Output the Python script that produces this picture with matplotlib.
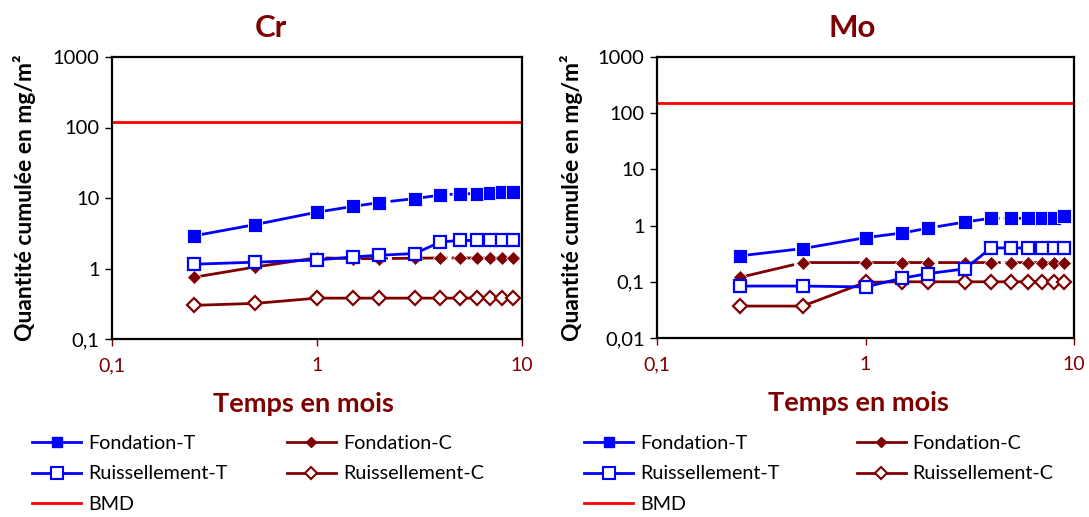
import matplotlib
matplotlib.use("Agg")
import matplotlib.pyplot as plt
from matplotlib.lines import Line2D
from matplotlib.ticker import FixedLocator, FixedFormatter, NullLocator

plt.rcParams['font.family'] = ['Lato', 'DejaVu Sans']

# ---- data ----
temps = [0.25, 0.5, 1, 1.5, 2, 3, 4, 5, 6, 7, 8, 9]

cr_fondation_t = [2.9, 4.2, 6.3, 7.6, 8.6, 9.8, 11.0, 11.5, 11.5, 11.9, 12.1, 12.2]
cr_fondation_c = [0.75, 1.05, 1.42, 1.38, 1.38, 1.4, 1.41, 1.41, 1.41, 1.41, 1.41, 1.41]
cr_ruiss_t = [1.15, 1.23, 1.32, 1.46, 1.54, 1.63, 2.38, 2.5, 2.5, 2.5, 2.5, 2.5]
cr_ruiss_c = [0.30, 0.32, 0.38, 0.38, 0.38, 0.38, 0.38, 0.38, 0.38, 0.38, 0.38, 0.38]
cr_bmd = 120

mo_fondation_t = [0.29, 0.39, 0.61, 0.74, 0.90, 1.16, 1.35, 1.35, 1.35, 1.35, 1.35, 1.5]
mo_fondation_c = [0.12, 0.22, 0.22, 0.22, 0.22, 0.22, 0.22, 0.22, 0.22, 0.22, 0.22, 0.22]
mo_ruiss_t = [0.084, 0.084, 0.081, 0.116, 0.14, 0.17, 0.40, 0.40, 0.40, 0.40, 0.40, 0.40]
mo_ruiss_c = [0.037, 0.037, 0.098, 0.1, 0.1, 0.1, 0.1, 0.1, 0.1, 0.1, 0.1, 0.1]
mo_bmd = 150

titles = ["Cr", "Mo"]
series_labels = ["Fondation-T", "Fondation-C", "Ruissellement-T", "Ruissellement-C", "BMD"]
x_ticks = [0.1, 1, 10]
x_ticklabels = ["0,1", "1", "10"]
cr_yticks = [0.1, 1, 10, 100, 1000]
cr_yticklabels = ["0,1", "1", "10", "100", "1000"]
mo_yticks = [0.01, 0.1, 1, 10, 100, 1000]
mo_yticklabels = ["0,01", "0,1", "1", "10", "100", "1000"]

BLUE = "#0000FF"
DRED = "#7F0000"
RED = "#FF0000"

W, H = 1089, 517
fig = plt.figure(figsize=(W / 100, H / 100), dpi=100)

positions = [
    [112 / W, (H - 339) / H, 410 / W, 282 / H],
    [657 / W, (H - 338) / H, 417 / W, 281 / H],
]
panels = [
    (cr_fondation_t, cr_fondation_c, cr_ruiss_t, cr_ruiss_c, cr_bmd, cr_yticks, cr_yticklabels),
    (mo_fondation_t, mo_fondation_c, mo_ruiss_t, mo_ruiss_c, mo_bmd, mo_yticks, mo_yticklabels),
]
title_x = [0.388, 0.468]
xlabel_x = [0.468, 0.482]
ylabel_x = [-0.185, -0.178]
legend_x = [32 / W, 584 / W]
colspace = [3.0, 3.9]

dashdot = (0, (20, 1.5, 1, 1.5))

for i, (ft, fc, rt, rc, bmd, yt, ytl) in enumerate(panels):
    ax = fig.add_axes(positions[i])
    ax.set_xscale('log')
    ax.set_yscale('log')
    ax.set_xlim(0.1, 10)
    ax.set_ylim(yt[0], yt[-1])

    ax.axhline(bmd, color=RED, lw=2.0, zorder=2)
    ax.plot(temps, rc, color=DRED, lw=2.0, marker='D', ms=7.2,
            mfc='white', mec=DRED, mew=1.6, zorder=3)
    ax.plot(temps, fc, color=DRED, lw=2.0, ls=dashdot, marker='D', ms=7.2,
            mfc=DRED, mec='white', mew=0.5, zorder=4)
    ax.plot(temps, rt, color=BLUE, lw=2.0, marker='s', ms=9.0,
            mfc='white', mec=BLUE, mew=1.6, zorder=5)
    ax.plot(temps, ft, color=BLUE, lw=2.0, ls=dashdot, marker='s', ms=10.0,
            mfc=BLUE, mec='white', mew=0.6, zorder=6)

    ax.xaxis.set_major_locator(FixedLocator(x_ticks))
    ax.xaxis.set_major_formatter(FixedFormatter(x_ticklabels))
    ax.xaxis.set_minor_locator(NullLocator())
    ax.yaxis.set_major_locator(FixedLocator(yt))
    ax.yaxis.set_major_formatter(FixedFormatter(ytl))
    ax.yaxis.set_minor_locator(NullLocator())

    ax.tick_params(axis='x', colors=DRED, labelsize=14, length=5, width=1,
                   direction='out', pad=8)
    ax.tick_params(axis='y', colors='black', labelsize=14.5, length=5, width=1,
                   direction='out', pad=4)
    for s in ax.spines.values():
        s.set_linewidth(1.6)
        s.set_color('black')

    ax.text(title_x[i], 1 + 29 / positions[i][3] / H, titles[i], transform=ax.transAxes,
            fontsize=22.5, fontweight='bold', color=DRED, ha='center', va='center')
    ax.set_xlabel("Temps en mois", fontsize=19.5, fontweight='bold', color=DRED)
    ax.xaxis.set_label_coords(xlabel_x[i], -53 / (positions[i][3] * H))
    ax.set_ylabel("Quantité cumulée en mg/m²", fontsize=16.5, fontweight='bold',
                  color='black')
    ax.yaxis.set_label_coords(ylabel_x[i], 0.5)

    handles = [
        Line2D([], [], color=BLUE, lw=2, marker='s', ms=7, mfc=BLUE, mec=BLUE),
        Line2D([], [], color=BLUE, lw=2, marker='s', ms=8, mfc='white', mec=BLUE, mew=1.5),
        Line2D([], [], color=RED, lw=2),
        Line2D([], [], color=DRED, lw=2, marker='D', ms=5, mfc=DRED, mec=DRED),
        Line2D([], [], color=DRED, lw=2, marker='D', ms=6.5, mfc='white', mec=DRED, mew=1.5),
    ]
    labels = [series_labels[0], series_labels[2], series_labels[4],
              series_labels[1], series_labels[3]]
    fig.legend(handles, labels, loc='upper left', bbox_to_anchor=(legend_x[i], 1 - 435 / H),
               ncol=2, frameon=False, fontsize=14.2, handlelength=2.5,
               handletextpad=0.35, columnspacing=colspace[i], labelspacing=0.68,
               borderaxespad=0, borderpad=0)

fig.savefig("out.png", dpi=100)
